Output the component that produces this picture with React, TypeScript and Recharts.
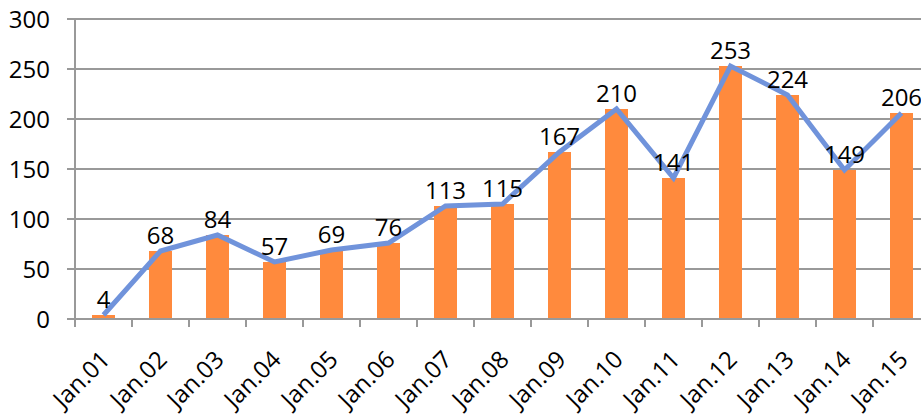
import React from "react"
import {
    ComposedChart,
    Bar,
    Line,
    XAxis,
    YAxis,
    CartesianGrid,
    LabelList
} from "recharts"

const categories = [
    "Jan.01", "Jan.02", "Jan.03", "Jan.04", "Jan.05",
    "Jan.06", "Jan.07", "Jan.08", "Jan.09", "Jan.10",
    "Jan.11", "Jan.12", "Jan.13", "Jan.14", "Jan.15"
]

const counts = [4, 68, 84, 57, 69, 76, 113, 115, 167, 210, 141, 253, 224, 149, 206]

const yTicks = [0, 50, 100, 150, 200, 250, 300]

const FONT = "'Open Sans', 'Noto Sans', sans-serif"
const GRAY = "#999999"
const LABEL_GAP = 42

const chartData = categories.map((day, i) => ({ day, count: counts[i] }))

// label rotated -45deg plus an Excel style tick mark on the left edge of the category
function DayTick(props: any) {
    const { x, y, payload } = props
    const half = payload.offset || 0
    const axisY = y - LABEL_GAP
    const tx = x + 8
    return (
        <g>
            <line
                x1={x - half}
                x2={x - half}
                y1={axisY}
                y2={axisY + 8}
                stroke={GRAY}
                strokeWidth={2}
            />
            <text
                x={tx}
                y={y}
                transform={`rotate(-45 ${tx} ${y})`}
                textAnchor="end"
                fontFamily={FONT}
                fontSize={24}
                fill="#000"
            >
                {payload.value}
            </text>
        </g>
    )
}

export default function App() {
    return (
        <div style={{ width: 921, height: 414, overflow: "hidden", background: "#fff" }}>
            <style>{"body{margin:0}"}</style>
            <ComposedChart
                width={930}
                height={414}
                data={chartData}
                margin={{ top: 19, right: 0, bottom: 0, left: 0 }}
            >
                <CartesianGrid vertical={false} stroke={GRAY} strokeWidth={2} />
                <XAxis
                    dataKey="day"
                    interval={0}
                    height={95}
                    axisLine={{ stroke: GRAY, strokeWidth: 2 }}
                    tickLine={false}
                    tickSize={0}
                    tickMargin={LABEL_GAP}
                    tick={<DayTick />}
                />
                <YAxis
                    width={75}
                    domain={[0, 300]}
                    ticks={yTicks}
                    interval={0}
                    axisLine={{ stroke: GRAY, strokeWidth: 2 }}
                    tickLine={{ stroke: GRAY, strokeWidth: 2 }}
                    tickSize={8}
                    tickMargin={17}
                    tick={{ fontFamily: FONT, fontSize: 24, fill: "#000" }}
                />
                <Bar
                    dataKey="count"
                    fill="#FF8A3D"
                    barSize={23}
                    isAnimationActive={false}
                />
                <Line
                    dataKey="count"
                    type="linear"
                    stroke="#7093DB"
                    strokeWidth={5}
                    dot={false}
                    isAnimationActive={false}
                >
                    <LabelList
                        dataKey="count"
                        position="top"
                        offset={7}
                        fontFamily={FONT}
                        fontSize={24}
                        fill="#000"
                    />
                </Line>
            </ComposedChart>
        </div>
    )
}
